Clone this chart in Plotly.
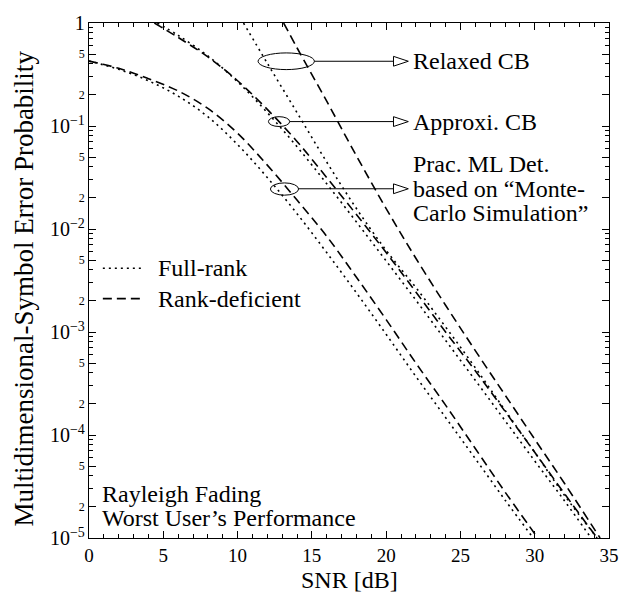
import numpy as np
import plotly.graph_objects as go

# ---------------- data ----------------
# Monte-Carlo simulated practical ML detection
mc_full_snr = [0, 2, 4, 6, 8, 10, 12, 14, 16, 18, 20, 22, 24, 26, 28, 29.9]
mc_full_pe = [0.427, 0.355, 0.275, 0.195, 0.123, 0.066, 0.0316, 0.0141, 5.9e-3,
              2.4e-3, 9.5e-4, 3.7e-4, 1.48e-4, 5.9e-5, 2.34e-5, 1.0e-5]
mc_def_snr = [0, 2, 4, 6, 8, 10, 12, 14, 16, 18, 20, 22, 24, 26, 28, 30, 30.2]
mc_def_pe = [0.427, 0.363, 0.288, 0.219, 0.148, 0.085, 0.0417, 0.0191, 8.5e-3,
             3.4e-3, 1.32e-3, 5.0e-4, 1.95e-4, 7.4e-5, 2.8e-5, 1.1e-5, 1.0e-5]
# Approximated Chernoff bound
acb_full_snr = [4.6, 6, 8, 10, 12, 14, 16, 18, 20, 22, 24, 26, 28, 30, 32, 33.8]
acb_full_pe = [1.0, 0.759, 0.479, 0.269, 0.135, 0.063, 0.0275, 0.0117, 4.9e-3,
               2.04e-3, 8.3e-4, 3.4e-4, 1.38e-4, 5.6e-5, 2.3e-5, 1.0e-5]
acb_def_snr = [4.4, 6, 8, 10, 12, 14, 16, 18, 20, 22, 24, 26, 28, 30, 32, 34.2]
acb_def_pe = [1.0, 0.724, 0.468, 0.275, 0.145, 0.0708, 0.0316, 0.0138, 5.9e-3,
              2.45e-3, 1.0e-3, 4.2e-4, 1.7e-4, 6.8e-5, 2.7e-5, 1.0e-5]
# Relaxed Chernoff bound
rcb_full_snr = [10.4, 12, 14, 16, 18, 20, 22, 24, 26, 28, 30, 32, 34.2]
rcb_full_pe = [1.0, 0.407, 0.135, 0.0447, 0.0158, 6.2e-3, 2.7e-3, 1.12e-3,
               4.5e-4, 1.74e-4, 6.8e-5, 2.6e-5, 1.0e-5]
rcb_def_snr = [13.1, 14, 16, 18, 20, 22, 24, 26, 28, 30, 32, 34.4]
rcb_def_pe = [1.0, 0.575, 0.174, 0.0513, 0.0158, 5.2e-3, 1.82e-3, 6.6e-4,
              2.45e-4, 9.1e-5, 3.4e-5, 1.0e-5]

legend_labels = ["Full-rank", "Rank-deficient"]
x_ticks = [0, 5, 10, 15, 20, 25, 30, 35]

# ---------------- layout constants ----------------
W, H = 631, 601
L, R, T, B = 89, 16, 13, 63
PW, PH = W - L - R, H - T - B
FONT = "Liberation Serif"
FS = 24
DOT = "2px,4px"
DASH = "9px,5px"
LW = 1.6


def px(x):
    return (x - L) / PW


def py(y):
    return (H - B - y) / PH


def txt(x, y, t, anchor="left", size=FS, angle=0):
    return dict(xref="paper", yref="paper", x=px(x), y=py(y), text=t,
                xanchor=anchor, yanchor="middle", showarrow=False, textangle=angle,
                font=dict(family=FONT, size=size, color="black"))


fig = go.Figure()
series = [
    (mc_full_snr, mc_full_pe, DOT), (mc_def_snr, mc_def_pe, DASH),
    (acb_full_snr, acb_full_pe, DOT), (acb_def_snr, acb_def_pe, DASH),
    (rcb_full_snr, rcb_full_pe, DOT), (rcb_def_snr, rcb_def_pe, DASH),
]
for xs, ys, d in series:
    fig.add_trace(go.Scatter(x=xs, y=ys, mode="lines", line_shape="spline",
                             line=dict(color="black", width=LW, dash=d),
                             showlegend=False, hoverinfo="skip"))

shapes = []
annots = []
# ellipses + hollow-head arrows + labels
marks = [
    ((260, 317, 43.5, 60.5), 52, ["Relaxed CB"]),
    ((270.5, 292, 108.5, 118.5), 113.5, ["Approxi. CB"]),
    ((272.5, 301, 176, 188.5), 182, ["Prac. ML Det.", "based on \u201cMonte-", "Carlo Simulation\u201d"]),
]
for (ex0, ex1, ey0, ey1), yl, texts in marks:
    shapes.append(dict(type="circle", xref="paper", yref="paper",
                       x0=px(ex0), x1=px(ex1), y0=py(ey1), y1=py(ey0),
                       line=dict(color="black", width=1)))
    shapes.append(dict(type="line", xref="paper", yref="paper",
                       x0=px(ex1), x1=px(397), y0=py(yl), y1=py(yl),
                       line=dict(color="black", width=1)))
    shapes.append(dict(type="path", xref="paper", yref="paper",
                       path=f"M{px(397)},{py(yl-5)} L{px(412)},{py(yl)} L{px(397)},{py(yl+5)} Z",
                       fillcolor="white", line=dict(color="black", width=1)))
    if len(texts) == 1:
        annots.append(txt(415, yl, texts[0]))
    else:
        for i, t in enumerate(texts):
            annots.append(txt(415, yl - 25 + 25 * i, t))

# manual legend
for i, (lab, d) in enumerate(zip(legend_labels, [DOT, DASH])):
    yy = 263 + 31 * i
    shapes.append(dict(type="line", xref="paper", yref="paper",
                       x0=px(103), x1=px(144), y0=py(yy), y1=py(yy),
                       line=dict(color="black", width=LW, dash=d)))
    annots.append(txt(157, yy, lab))

for i, t in enumerate(["Rayleigh Fading", "Worst User\u2019s Performance"]):
    annots.append(txt(100, 493 + 25 * i, t))

# axis titles
annots.append(txt(352, 581, "SNR [dB]", anchor="center"))
annots.append(txt(23, 284, "Multidimensional-Symbol Error Probability",
                  anchor="center", size=27, angle=-90))

fig.update_layout(
    width=W, height=H, margin=dict(l=L, r=R, t=T, b=B),
    paper_bgcolor="white", plot_bgcolor="white",
    font=dict(family=FONT, color="black"),
    shapes=shapes, annotations=annots, showlegend=False,
)
fig.update_xaxes(range=[0, 35], tickvals=x_ticks, ticks="inside", ticklen=7,
                 tickcolor="black", showline=True, linecolor="black", linewidth=1,
                 mirror="ticks", showgrid=False, zeroline=False,
                 tickfont=dict(family=FONT, size=19, color="black"),
                 minor=dict(dtick=1, ticks="inside", ticklen=4, tickcolor="black", showgrid=False))
fig.update_yaxes(type="log", range=[-5, 0], dtick="D2", exponentformat="power",
                 ticks="inside", ticklen=7, tickcolor="black", showline=True,
                 linecolor="black", linewidth=1, mirror="ticks", showgrid=False,
                 tickfont=dict(family=FONT, size=16, color="black"),
                 minor=dict(dtick="D1", ticks="inside", ticklen=4, tickcolor="black", showgrid=False))

fig.write_html("out.html")
